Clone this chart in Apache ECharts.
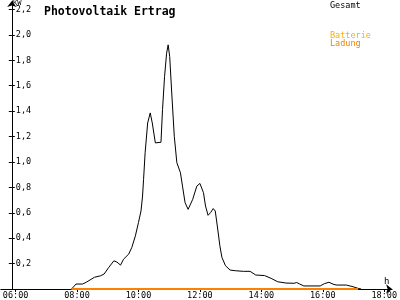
<!DOCTYPE html>
<html>
<head>
<meta charset="utf-8">
<script src="https://cdn.jsdelivr.net/npm/echarts@6/dist/echarts.min.js"></script>
<style>html,body{margin:0;padding:0;background:#fff}#c{width:400px;height:300px}</style>
</head>
<body>
<div id="c"></div>
<script>
// PV output (Gesamt), kW at clock times
const pvTimes = ["07:49","07:53","07:58","08:11","08:18","08:34","08:46","08:53","09:02","09:12","09:18","09:25","09:31","09:41","09:47","09:54","10:00","10:05","10:08","10:10","10:13","10:18","10:23","10:27","10:33","10:44","10:47","10:51","10:55","10:58","11:01","11:05","11:10","11:15","11:22","11:26","11:31","11:37","11:46","11:54","12:00","12:07","12:11","12:16","12:21","12:26","12:30","12:34","12:39","12:43","12:50","12:59","13:09","13:25","13:38","13:49","14:06","14:19","14:32","14:48","15:04","15:09","15:15","15:23","15:55","16:03","16:12","16:22","16:28","16:46","16:59","17:09","17:15"];
const pvValues = [0,0.016,0.039,0.039,0.053,0.092,0.104,0.118,0.170,0.222,0.212,0.188,0.235,0.275,0.327,0.418,0.523,0.614,0.732,0.863,1.072,1.307,1.386,1.307,1.150,1.155,1.412,1.673,1.856,1.922,1.830,1.543,1.202,0.994,0.915,0.810,0.680,0.627,0.706,0.810,0.831,0.758,0.653,0.580,0.602,0.633,0.614,0.496,0.340,0.249,0.183,0.149,0.144,0.139,0.139,0.110,0.106,0.084,0.057,0.047,0.045,0.051,0.039,0.024,0.024,0.042,0.053,0.035,0.031,0.031,0.018,0.005,0];
// Battery charging (Batterie Ladung)
const batTimes = ["07:49","17:09"];
const batValues = [0,0];
// Axis ticks
const xTickHours = [6,8,10,12,14,16,18];
const yTickValues = [0.2,0.4,0.6,0.8,1.0,1.2,1.4,1.6,1.8,2.0,2.2];

const toH = t => { const [h,m] = t.split(':').map(Number); return h + m/60; };
const pvData = pvTimes.map((t,i) => [toH(t), pvValues[i]]);
const batData = batTimes.map((t,i) => [toH(t), batValues[i]]);
const FONT = 'DejaVu Sans Mono';

const chart = echarts.init(document.getElementById('c'), null, {renderer:'canvas'});
chart.setOption({
  animation: false,
  backgroundColor: '#fff',
  title: {
    text: 'Photovoltaik Ertrag', left: 39, top: 1,
    textStyle: {fontFamily: FONT, fontSize: 11.5, fontWeight: 'bold', color: '#000'}
  },
  grid: {left: 0, right: 2, top: 1, bottom: 10},
  xAxis: {
    type: 'value', min: 5.52, max: 18.256,
    axisLine: {lineStyle: {color: '#000', width: 1}, symbol: ['none','arrow'], symbolSize: [7,6]},
    axisTick: {customValues: xTickHours, length: 3, lineStyle: {color: '#000'}},
    axisLabel: {
      customValues: xTickHours, margin: 2, color: '#000', fontFamily: FONT, fontSize: 8.5,
      formatter: v => String(Math.round(v)).padStart(2,'0') + ':00'
    },
    splitLine: {show: false}
  },
  yAxis: [{
    type: 'value', min: 0, max: 2.267, offset: -11,
    axisLine: {show: true, lineStyle: {color: '#000', width: 1}, symbol: ['none','arrow'], symbolSize: [7,6]},
    axisTick: {customValues: yTickValues, length: 3, lineStyle: {color: '#000'}},
    axisLabel: {
      customValues: yTickValues, inside: true, margin: 4, color: '#000', fontFamily: FONT, fontSize: 8.5,
      formatter: v => v.toFixed(1).replace('.', ',')
    },
    splitLine: {show: false}
  }, {
    type: 'value', min: 0, max: 2.267, offset: -11, position: 'left',
    axisLine: {show: false},
    axisTick: {customValues: yTickValues, inside: true, length: 3, lineStyle: {color: '#000'}},
    axisLabel: {show: false},
    splitLine: {show: false}
  }],
  graphic: [
    {type: 'text', left: 13, top: 0, style: {text: 'KW', fontFamily: FONT, fontSize: 7, fill: '#000'}},
    {type: 'text', left: 384, top: 277, style: {text: 'h', fontFamily: FONT, fontSize: 9, fill: '#000'}},
    {type: 'text', left: 330, top: 1, style: {text: 'Gesamt', fontFamily: FONT, fontSize: 8.5, fill: '#000'}},
    {type: 'text', left: 330, top: 31, style: {text: 'Batterie', fontFamily: FONT, fontSize: 8.5, fill: '#F8B000'}},
    {type: 'text', left: 330, top: 39, style: {text: 'Ladung', fontFamily: FONT, fontSize: 8.5, fill: '#F08000'}}
  ],
  series: [{
    name: 'Gesamt', type: 'line', data: pvData, showSymbol: false, symbol: 'none',
    lineStyle: {color: '#000', width: 1}, z: 3
  }, {
    name: 'Batterie Ladung', type: 'line', data: batData, showSymbol: false, symbol: 'none',
    lineStyle: {color: '#FF8000', width: 2}, z: 4
  }]
});
</script>
</body>
</html>
